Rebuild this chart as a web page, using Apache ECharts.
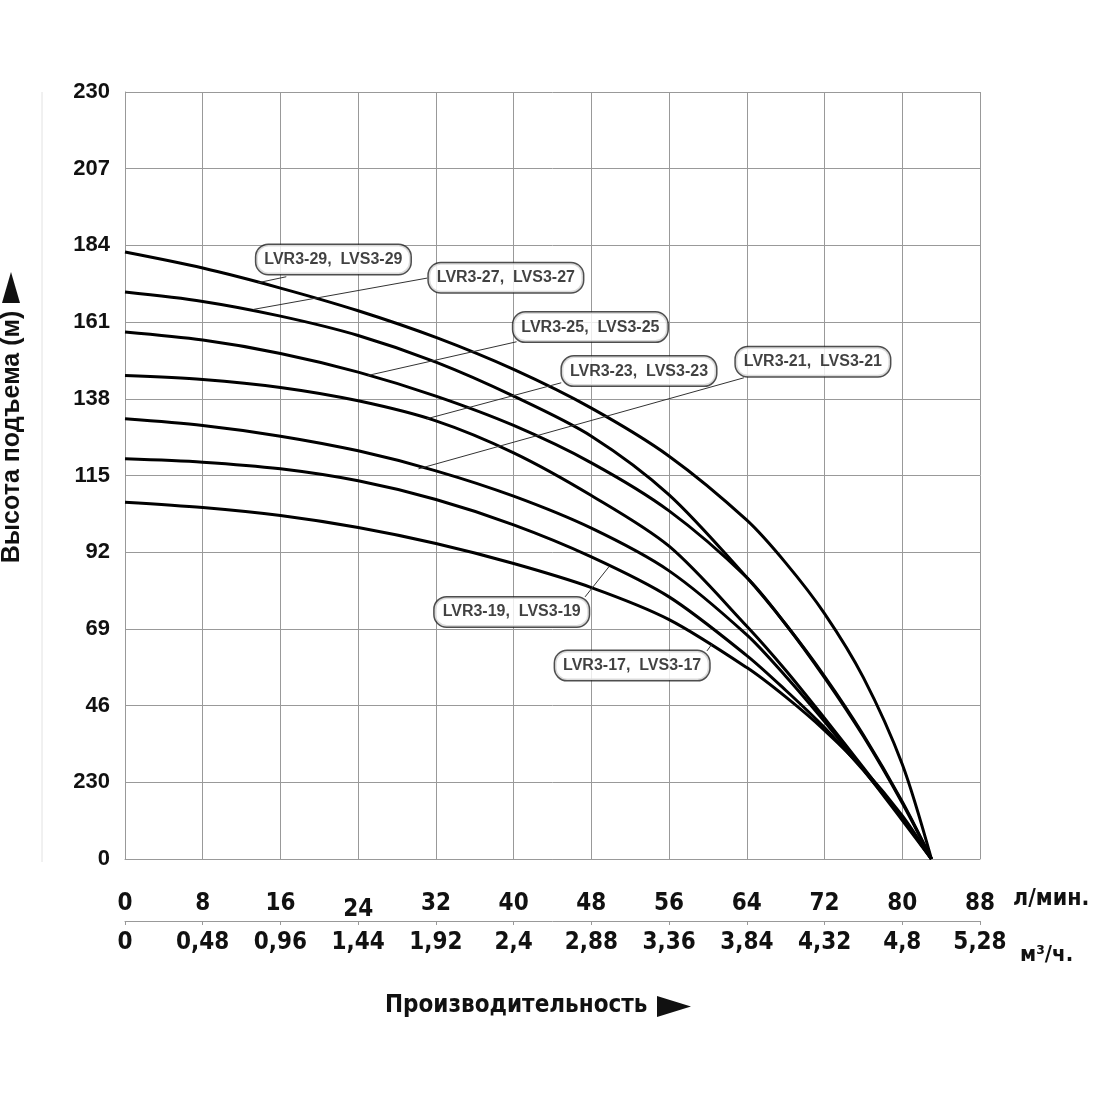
<!DOCTYPE html>
<html>
<head>
<meta charset="utf-8">
<script src="https://cdn.jsdelivr.net/npm/echarts@6/dist/echarts.min.js"></script>
<style>
html,body{margin:0;padding:0;background:#fff;}
#chart{width:1100px;height:1100px;}
</style>
</head>
<body>
<div id="chart"></div>
<script>
// ---- data ----
const flowLpm = [0, 8, 16, 24, 32, 40, 48, 56, 64, 68, 72, 76, 80, 83];
const head29 = [182, 177.2, 171.2, 164.4, 156.4, 146.8, 135.2, 120.8, 101.6, 88.8, 73.6, 54.4, 28.4, 0];
const head27 = [170, 167.2, 162.8, 157, 149, 138.8, 126.8, 109.2, 84.4, 70.4, 54.8, 37.2, 17.2, 0];
const head25 = [158, 155.6, 151.6, 146, 138.8, 130, 118.8, 104.4, 84.4, 70.4, 54.4, 36.8, 16.8, 0];
const head23 = [145, 143.8, 141.4, 137.4, 131.4, 121.8, 109, 93.8, 69.8, 56.6, 42.2, 27.4, 12.2, 0];
const head21 = [132, 130, 126.8, 122.4, 116.4, 108.8, 99.2, 86.4, 67.2, 54.8, 41.2, 26.8, 11.6, 0];
const head19 = [120, 119, 117, 113.4, 107.8, 100.2, 90.6, 78.6, 61, 50.6, 39.4, 26.6, 12.2, 0];
const head17 = [107, 105.4, 103, 99.4, 94.6, 88.6, 81.4, 71.8, 57.4, 48.6, 38.6, 27, 13, 0];

const seriesNames = ['LVR3-29,  LVS3-29','LVR3-27,  LVS3-27','LVR3-25,  LVS3-25','LVR3-23,  LVS3-23','LVR3-21,  LVS3-21','LVR3-19,  LVS3-19','LVR3-17,  LVS3-17'];
const seriesHeads = [head29, head27, head25, head23, head21, head19, head17];

const yTickLabels = ['0','230','46','69','92','115','138','161','184','207','230'];
const lpmTickLabels = ['0','8','16','24','32','40','48','56','64','72','80','88'];
const m3hTickLabels = ['0','0,48','0,96','1,44','1,92','2,4','2,88','3,36','3,84','4,32','4,8','5,28'];

// annotation callouts (data coordinates): label centre, leader start, leader end
const calloutCenter = [[21.45,179.8],[39.2,174.3],[47.9,159.5],[52.9,146.3],[70.8,149.1],[39.8,74.1],[52.2,58.0]];
const leaderFrom = [[16.6,174.6],[31.1,174.2],[40.3,155.1],[44.9,142.8],[63.7,144.3],[47.35,78.6],[59.9,62.4]];
const leaderTo = [[13.7,172.8],[13.2,164.8],[25.0,145.0],[31.05,132.0],[30.2,117.0],[49.8,87.6],[60.4,64.4]];

const narrow = '"Liberation Sans Narrow","DejaVu Sans Condensed","Liberation Sans",sans-serif';
const sans = '"Liberation Sans",Arial,sans-serif';

const chart = echarts.init(document.getElementById('chart'), null, {renderer:'canvas'});

const lineSeries = seriesHeads.map((h, i) => ({
  name: seriesNames[i],
  type: 'line',
  data: flowLpm.map((x, k) => [x, h[k]]),
  smooth: 0.3,
  symbol: 'none',
  lineStyle: {color: '#000', width: 3},
  z: 3,
  animation: false
}));

const calloutSeries = {
  type: 'scatter',
  symbolSize: 0,
  z: 10,
  animation: false,
  silent: true,
  data: calloutCenter.map((c, i) => ({value: c, name: seriesNames[i]})),
  label: {
    show: true,
    position: 'inside',
    formatter: '{b}',
    fontFamily: sans,
    fontWeight: 'bold',
    fontSize: 16,
    color: '#111',
    backgroundColor: '#fff',
    borderColor: '#222',
    borderWidth: 1.5,
    borderRadius: 12,
    padding: [7, 8, 6, 8]
  },
  markLine: {
    silent: true,
    symbol: ['none','none'],
    animation: false,
    label: {show: false},
    lineStyle: {color: '#333', width: 1, type: 'solid'},
    data: leaderFrom.map((f, i) => [{coord: f}, {coord: leaderTo[i]}])
  }
};

const tickFont = {fontSize: 24, fontWeight: 'bold', fontFamily: narrow, color: '#111'};

const option = {
  backgroundColor: '#fff',
  animation: false,
  grid: {left: 125, right: 120, top: 92, bottom: 241, containLabel: false},
  xAxis: [
    {
      type: 'value', min: 0, max: 88, interval: 8, position: 'bottom',
      axisLine: {show: true, lineStyle: {color: '#999', width: 1}},
      axisTick: {show: false},
      splitLine: {show: true, lineStyle: {color: '#999', width: 1}},
      axisLabel: Object.assign({
        margin: 33,
        formatter: v => {
          const i = Math.round(v / 8);
          return i === 3 ? '{low|' + lpmTickLabels[i] + '}' : lpmTickLabels[i];
        },
        rich: {low: Object.assign({padding: [6, 0, 0, 0]}, tickFont)}
      }, tickFont)
    },
    {
      type: 'value', min: 0, max: 88, interval: 8, position: 'bottom', offset: 62,
      axisLine: {show: true, lineStyle: {color: '#999', width: 1}},
      axisTick: {show: true, length: 4, lineStyle: {color: '#999'}},
      splitLine: {show: false},
      axisLabel: Object.assign({
        margin: 10,
        formatter: v => m3hTickLabels[Math.round(v / 8)]
      }, tickFont)
    }
  ],
  yAxis: {
    type: 'value', min: 0, max: 230, interval: 23,
    axisLine: {show: true, lineStyle: {color: '#999', width: 1}},
    axisTick: {show: false},
    splitLine: {show: true, lineStyle: {color: '#999', width: 1}},
    axisLabel: {
      margin: 15, fontSize: 22, fontWeight: 'bold', fontFamily: sans, color: '#111',
      formatter: v => yTickLabels[Math.round(v / 23)]
    }
  },
  series: lineSeries.concat([calloutSeries]),
  graphic: [
    {type: 'line', shape: {x1: 42, y1: 92, x2: 42, y2: 862}, style: {stroke: '#e2e2e2', lineWidth: 1}, silent: true},
    {type: 'text', x: 12, y: 437, rotation: Math.PI / 2,
     style: {text: 'Высота подъема (м)', font: 'bold 25px ' + sans, fill: '#111', textAlign: 'center', textVerticalAlign: 'middle'}},
    {type: 'polygon', shape: {points: [[11, 272], [2, 303], [20, 303]]}, style: {fill: '#111'}},
    {type: 'text', x: 385, y: 1006,
     style: {text: 'Производительность', font: 'bold 24px ' + narrow, fill: '#111', textAlign: 'left', textVerticalAlign: 'middle'}},
    {type: 'polygon', shape: {points: [[657, 996], [657, 1017], [691, 1006.5]]}, style: {fill: '#111'}},
    {type: 'text', x: 1013, y: 899,
     style: {text: 'л/мин.', font: 'bold 23px ' + narrow, fill: '#111', textAlign: 'left', textVerticalAlign: 'middle'}},
    {type: 'text', x: 1020, y: 955,
     style: {text: 'м³/ч.', font: 'bold 22px ' + narrow, fill: '#111', textAlign: 'left', textVerticalAlign: 'middle'}}
  ]
};
chart.setOption(option);
</script>
</body>
</html>
